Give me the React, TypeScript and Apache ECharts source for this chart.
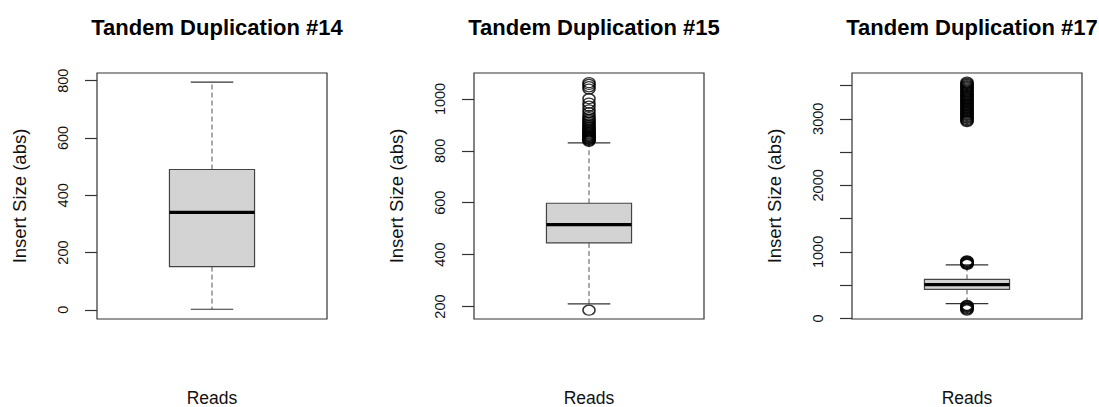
import React, { useEffect, useRef } from "react";
import * as echarts from "echarts";

const titles = ["Tandem Duplication #14", "Tandem Duplication #15", "Tandem Duplication #17"];
const categories = ["Reads"];
const yAxisName = "Insert Size (abs)";

// [lower whisker, Q1, median, Q3, upper whisker]
const stats14 = [2, 151, 340, 490, 795];
const stats15 = [210, 445, 516, 598, 831];
const stats17 = [224, 438, 508, 587, 807];

const outliers14: number[] = [];
const outliers15 = [
  186, 837, 840, 843, 846, 849, 852, 855, 858, 861, 865, 868, 872, 876, 880, 884, 889, 893,
  898, 903, 909, 915, 921, 928, 936, 947, 958, 972, 984, 1001, 1038, 1047, 1056, 1063,
];
const outliers17 = [
  128, 141, 152, 166, 178, 189, 198, 812, 821, 829, 838, 847, 858, 866, 2958, 2971, 2986,
  3004, 3017, 3033, 3049, 3062, 3078, 3095, 3111, 3124, 3142, 3158, 3171, 3189, 3206, 3218,
  3237, 3252, 3266, 3284, 3301, 3315, 3333, 3349, 3362, 3381, 3398, 3414, 3431, 3447, 3466,
  3482, 3497, 3515, 3531, 3548,
];

const yMin = [-32, 152, -7];
const yMax = [827, 1100, 3687];
const ticks14 = [0, 200, 400, 600, 800];
const ticks15 = [200, 400, 600, 800, 1000];
const ticks17 = [0, 500, 1000, 1500, 2000, 2500, 3000, 3500];
const labels17 = [0, 1000, 2000, 3000];

const FONT = "Liberation Sans, Arial, Helvetica, sans-serif";

const gridLefts = [97, 474, 852];
const gridTop = 73;
const gridWidth = 230;
const gridHeight = 246;

function renderBox(params: any, api: any) {
  const x = api.value(0);
  const lo = api.value(1);
  const q1 = api.value(2);
  const med = api.value(3);
  const q3 = api.value(4);
  const hi = api.value(5);
  const band = api.size([1, 0])[0];
  const bw = band * 0.37;
  const pLo = api.coord([x, lo]);
  const pQ1 = api.coord([x, q1]);
  const pMed = api.coord([x, med]);
  const pQ3 = api.coord([x, q3]);
  const pHi = api.coord([x, hi]);
  const cx = pLo[0];
  const dashStyle = { stroke: "#555", lineWidth: 1, lineDash: [5, 3] };
  const solid = { stroke: "#333", lineWidth: 1.2 };
  return {
    type: "group",
    children: [
      { type: "line", shape: { x1: cx, y1: pQ3[1], x2: cx, y2: pHi[1] }, style: dashStyle },
      { type: "line", shape: { x1: cx, y1: pQ1[1], x2: cx, y2: pLo[1] }, style: dashStyle },
      { type: "line", shape: { x1: cx - bw / 4, y1: pHi[1], x2: cx + bw / 4, y2: pHi[1] }, style: solid },
      { type: "line", shape: { x1: cx - bw / 4, y1: pLo[1], x2: cx + bw / 4, y2: pLo[1] }, style: solid },
      {
        type: "rect",
        shape: { x: cx - bw / 2, y: pQ3[1], width: bw, height: pQ1[1] - pQ3[1] },
        style: { fill: "#D3D3D3", stroke: "#444", lineWidth: 1.2 },
      },
      {
        type: "line",
        shape: { x1: cx - bw / 2, y1: pMed[1], x2: cx + bw / 2, y2: pMed[1] },
        style: { stroke: "#000", lineWidth: 3.2 },
      },
    ],
  };
}

export default function App() {
  const ref = useRef<HTMLDivElement>(null);
  useEffect(() => {
    if (!ref.current) return;
    const chart = echarts.init(ref.current, undefined, { renderer: "svg" });
    const stats = [stats14, stats15, stats17];
    const outs = [outliers14, outliers15, outliers17];
    const tickSets = [ticks14, ticks15, ticks17];
    const labelSets = [ticks14, ticks15, labels17];

    const option: any = {
      animation: false,
      backgroundColor: "#fff",
      textStyle: { fontFamily: FONT },
      title: titles.map((t, i) => ({
        text: t,
        left: gridLefts[i] + gridWidth / 2,
        textAlign: "center",
        top: 11,
        textStyle: { fontFamily: FONT, fontSize: 22, fontWeight: "bold", color: "#000" },
      })),
      grid: gridLefts.map((l) => ({
        left: l,
        top: gridTop,
        width: gridWidth,
        height: gridHeight,
        containLabel: false,
        outerBoundsMode: "none",
        show: true,
        borderColor: "#333",
        borderWidth: 1.2,
        backgroundColor: "transparent",
      })),
      xAxis: gridLefts.map((_, i) => ({
        gridIndex: i,
        type: "category",
        data: categories,
        axisLine: { show: false },
        axisTick: { show: false },
        axisLabel: { show: false },
        name: "Reads",
        nameLocation: "middle",
        nameGap: 70,
        nameTextStyle: { fontFamily: FONT, fontSize: 17.5, color: "#111" },
      })),
      yAxis: gridLefts.map((_, i) => ({
        gridIndex: i,
        type: "value",
        min: yMin[i],
        max: yMax[i],
        axisLine: { show: false },
        axisTick: {
          show: true,
          inside: false,
          length: 12,
          customValues: tickSets[i],
          lineStyle: { color: "#333", width: 1.2 },
        },
        axisLabel: {
          show: true,
          customValues: labelSets[i],
          formatter: (v: number) => String(v),
          rotate: 90,
          margin: 27,
          fontFamily: FONT,
          fontSize: 14.5,
          color: "#111",
        },
        splitLine: { show: false },
        name: yAxisName,
        nameLocation: "middle",
        nameGap: 68,
        nameTextStyle: { fontFamily: FONT, fontSize: 18.5, color: "#111" },
      })),
      series: [
        ...stats.map((s, i) => ({
          type: "custom",
          xAxisIndex: i,
          yAxisIndex: i,
          renderItem: renderBox,
          encode: { x: 0, y: [1, 2, 3, 4, 5] },
          data: [[0, ...s]],
          silent: true,
          z: 2,
        })),
        ...outs.map((o, i) => ({
          type: "scatter",
          xAxisIndex: i,
          yAxisIndex: i,
          symbol: "circle",
          symbolSize: [12, 10],
          itemStyle: { color: "transparent", borderColor: "#000", borderWidth: 1.4 },
          data: o.map((v) => [0, v]),
          silent: true,
          z: 3,
        })),
      ],
    };
    chart.setOption(option);
    return () => chart.dispose();
  }, []);
  return (
    <div
      ref={ref}
      style={{ position: "fixed", left: 0, top: 0, width: 1099, height: 407, background: "#fff" }}
    />
  );
}
